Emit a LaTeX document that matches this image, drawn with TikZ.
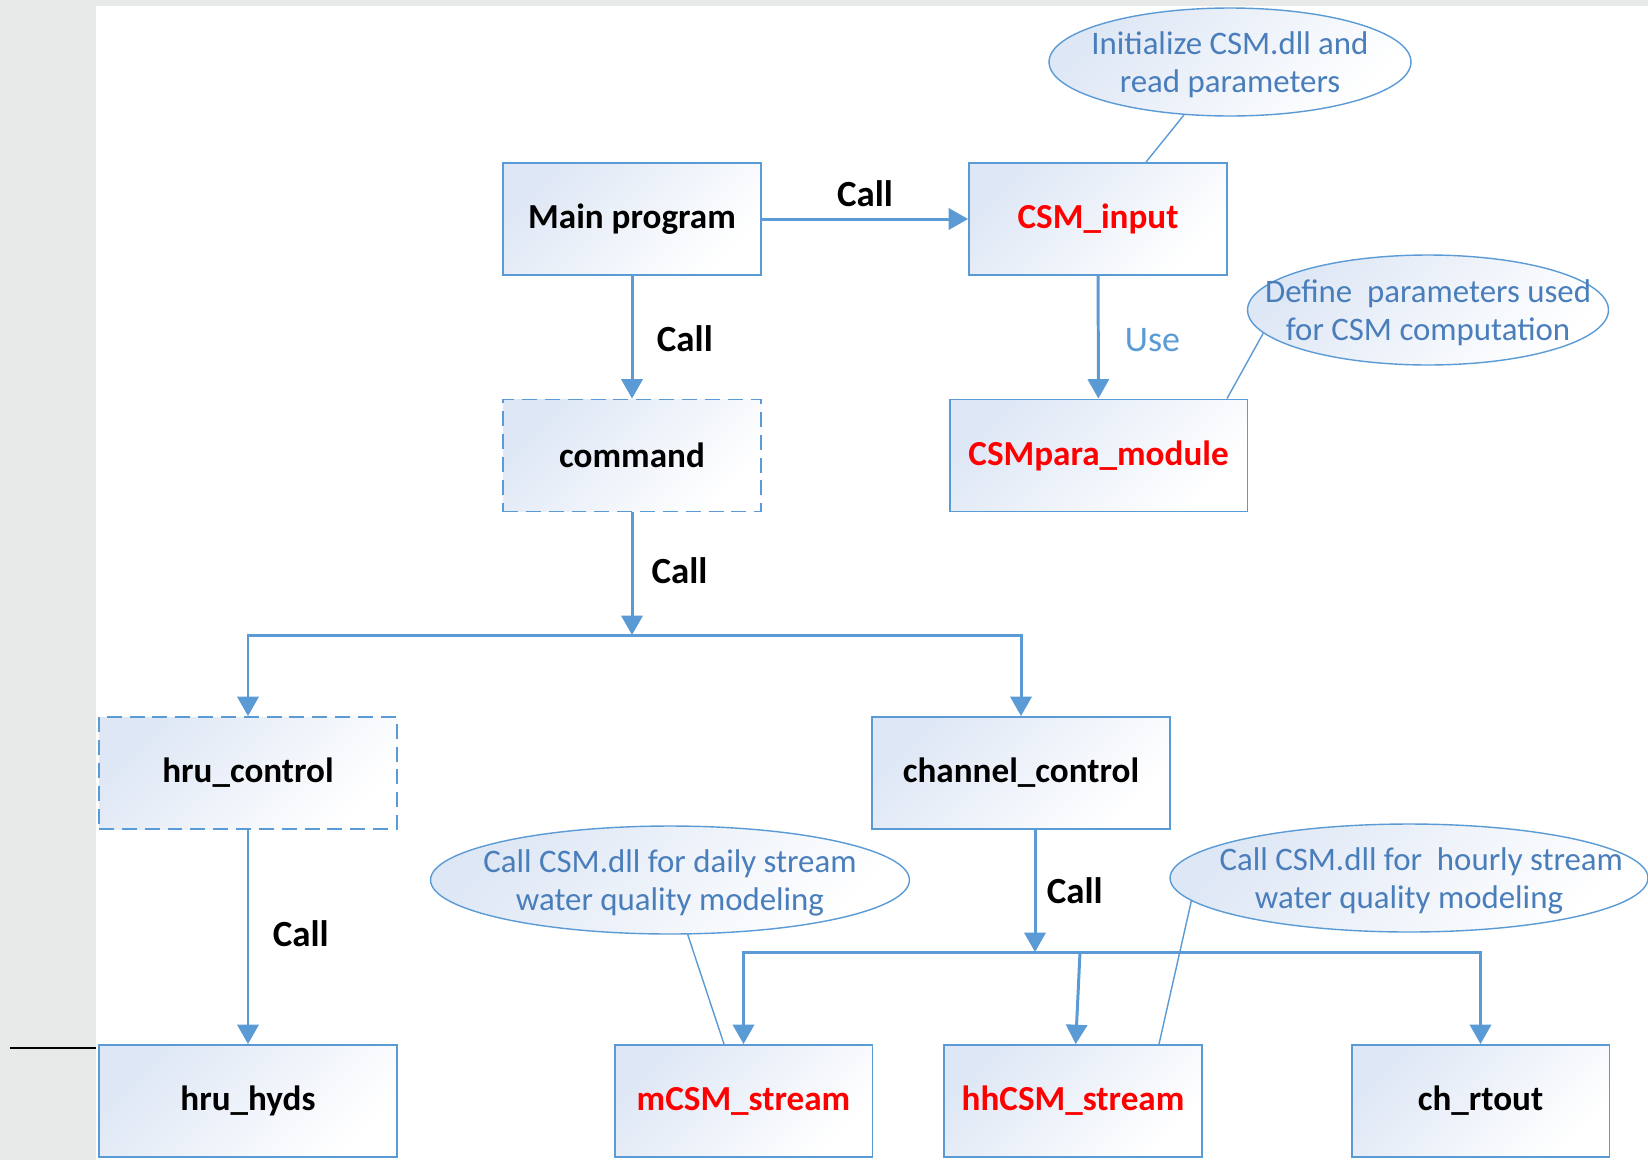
\documentclass[tikz,border=0pt]{standalone}
\usepackage{fontspec}
\setmainfont{Carlito}
\usetikzlibrary{arrows.meta,positioning,shapes.geometric,calc}

\definecolor{linkblue}{RGB}{91,155,213}
\definecolor{noteblue}{RGB}{74,126,187}
\definecolor{fillblue}{RGB}{222,231,245}
\definecolor{screengray}{RGB}{231,234,233}

% two-line text of a note, kept from widening its ellipse
\newcommand{\notetxt}[1]{\makebox[0pt]{\raisebox{-2.4pt}[\height][\depth]{\begin{tabular}{@{}c@{}}#1\end{tabular}}}}

\begin{document}
\begin{tikzpicture}[
        x=0.02cm, y=-0.02cm,
        box/.style={rectangle, draw=linkblue, line width=1.1pt, top color=fillblue, bottom color=white, shading angle=45, minimum width=5.16cm, minimum height=2.24cm, font=\fontsize{20}{24}\selectfont\bfseries},
        widebox/.style={box, minimum width=5.96cm},
        dashbox/.style={dash pattern=on 8.5pt off 4.5pt},
        csm_text/.style={text=red},
        note/.style={ellipse, draw=linkblue, line width=0.8pt, top color=fillblue, bottom color=white, shading angle=45, inner sep=0pt, text=noteblue, font=\fontsize{18.7}{21.5}\selectfont},
        link/.style={draw=linkblue, line width=1.7pt, -{Triangle[length=11pt,width=12pt]}},
        pointer/.style={draw=linkblue, line width=0.8pt},
        call_label/.style={font=\fontsize{21}{25}\selectfont\bfseries, midway},
        use_label/.style={font=\fontsize{20.5}{24}\selectfont, text=linkblue, midway}
    ]
        \useasboundingbox (0,0) rectangle (1648,1160);

        % Screenshot backdrop
        \fill[screengray] (0,0) rectangle (1648,1160);
        \fill[white] (96,6) rectangle (1648,1160);
        \draw[black, line width=0.8pt] (10,1048) -- (96,1048);

        % Top row
        \node[box] (main) at (632,219) {Main program};
        \node[box, csm_text] (csminput) at (1098,219) {CSM\_input};

        % Second row
        \node[box, dashbox] (command) at (632,455.5) {command};
        \node[widebox, csm_text] (csmpara) at (1098.5,455.5) {CSMpara\_module};

        % Control level
        \node[widebox, dashbox] (hructrl) at (248,773) {hru\_control};
        \node[widebox] (chanctrl) at (1021,773) {channel\_control};

        % Bottom row
        \node[widebox] (hruhyds) at (248,1101) {hru\_hyds};
        \node[box, csm_text] (mcsm) at (743.5,1101) {mCSM\_stream};
        \node[box, csm_text] (hhcsm) at (1073,1101) {hhCSM\_stream};
        \node[box] (chrtout) at (1480.5,1101) {ch\_rtout};

        % Notes
        \node[note, minimum width=7.24cm, minimum height=2.16cm] (init) at (1230,62) {\notetxt{Initialize CSM.dll and\\read parameters}};
        \node[note, minimum width=7.22cm, minimum height=2.2cm] (define) at (1428,310) {\notetxt{Define\ \ parameters used\\for CSM computation}};
        \node[note, minimum width=9.58cm, minimum height=2.16cm] (daily) at (670,880) {\notetxt{Call CSM.dll for daily stream\\water quality modeling}};
        \node[note, minimum width=9.56cm, minimum height=2.16cm] (hourly) at (1409,878) {\notetxt{\hspace*{14pt}Call CSM.dll for\ \ hourly stream\\water quality modeling}};

        % Branch points
        \coordinate (split_top) at (632,635);
        \coordinate (split_low) at (1035,952);
        \coordinate (tap_low) at (1080,952);

        % Calls
        \draw[link] (main) -- (csminput) node[call_label, above=2.8pt] {Call};
        \draw[link] (main) -- (command) node[call_label, right=10pt, yshift=-1pt] {Call};
        \draw[link] (csminput) -- (csmpara) node[use_label, right=11pt, yshift=-1.7pt] {Use};
        \draw[link] (command) -- (split_top) node[call_label, right=7pt, yshift=1.7pt] {Call};
        \draw[link] (split_top) -| (hructrl);
        \draw[link] (split_top) -| (chanctrl);
        \draw[link] (hructrl) -- (hruhyds) node[call_label, right=10pt, yshift=1.7pt] {Call};
        \draw[link] (chanctrl.south -| split_low) -- (split_low) node[call_label, right=2.5pt] {Call};
        \draw[link] (split_low) -| (mcsm);
        \draw[link] (split_low) -| (chrtout);
        \draw[link] (tap_low) -- (hhcsm);

        % Note pointers
        \draw[pointer] (init.-131) -- ($(csminput.north)+(48,0)$);
        \draw[pointer] (define.-172) -- ($(csmpara.north)+(128.5,0)$);
        \draw[pointer] (daily.-72) -- ($(mcsm.north)+(-19.5,0)$);
        \draw[pointer] (hourly.-174) -- ($(hhcsm.north)+(86,0)$);

    \end{tikzpicture}
\end{document}
